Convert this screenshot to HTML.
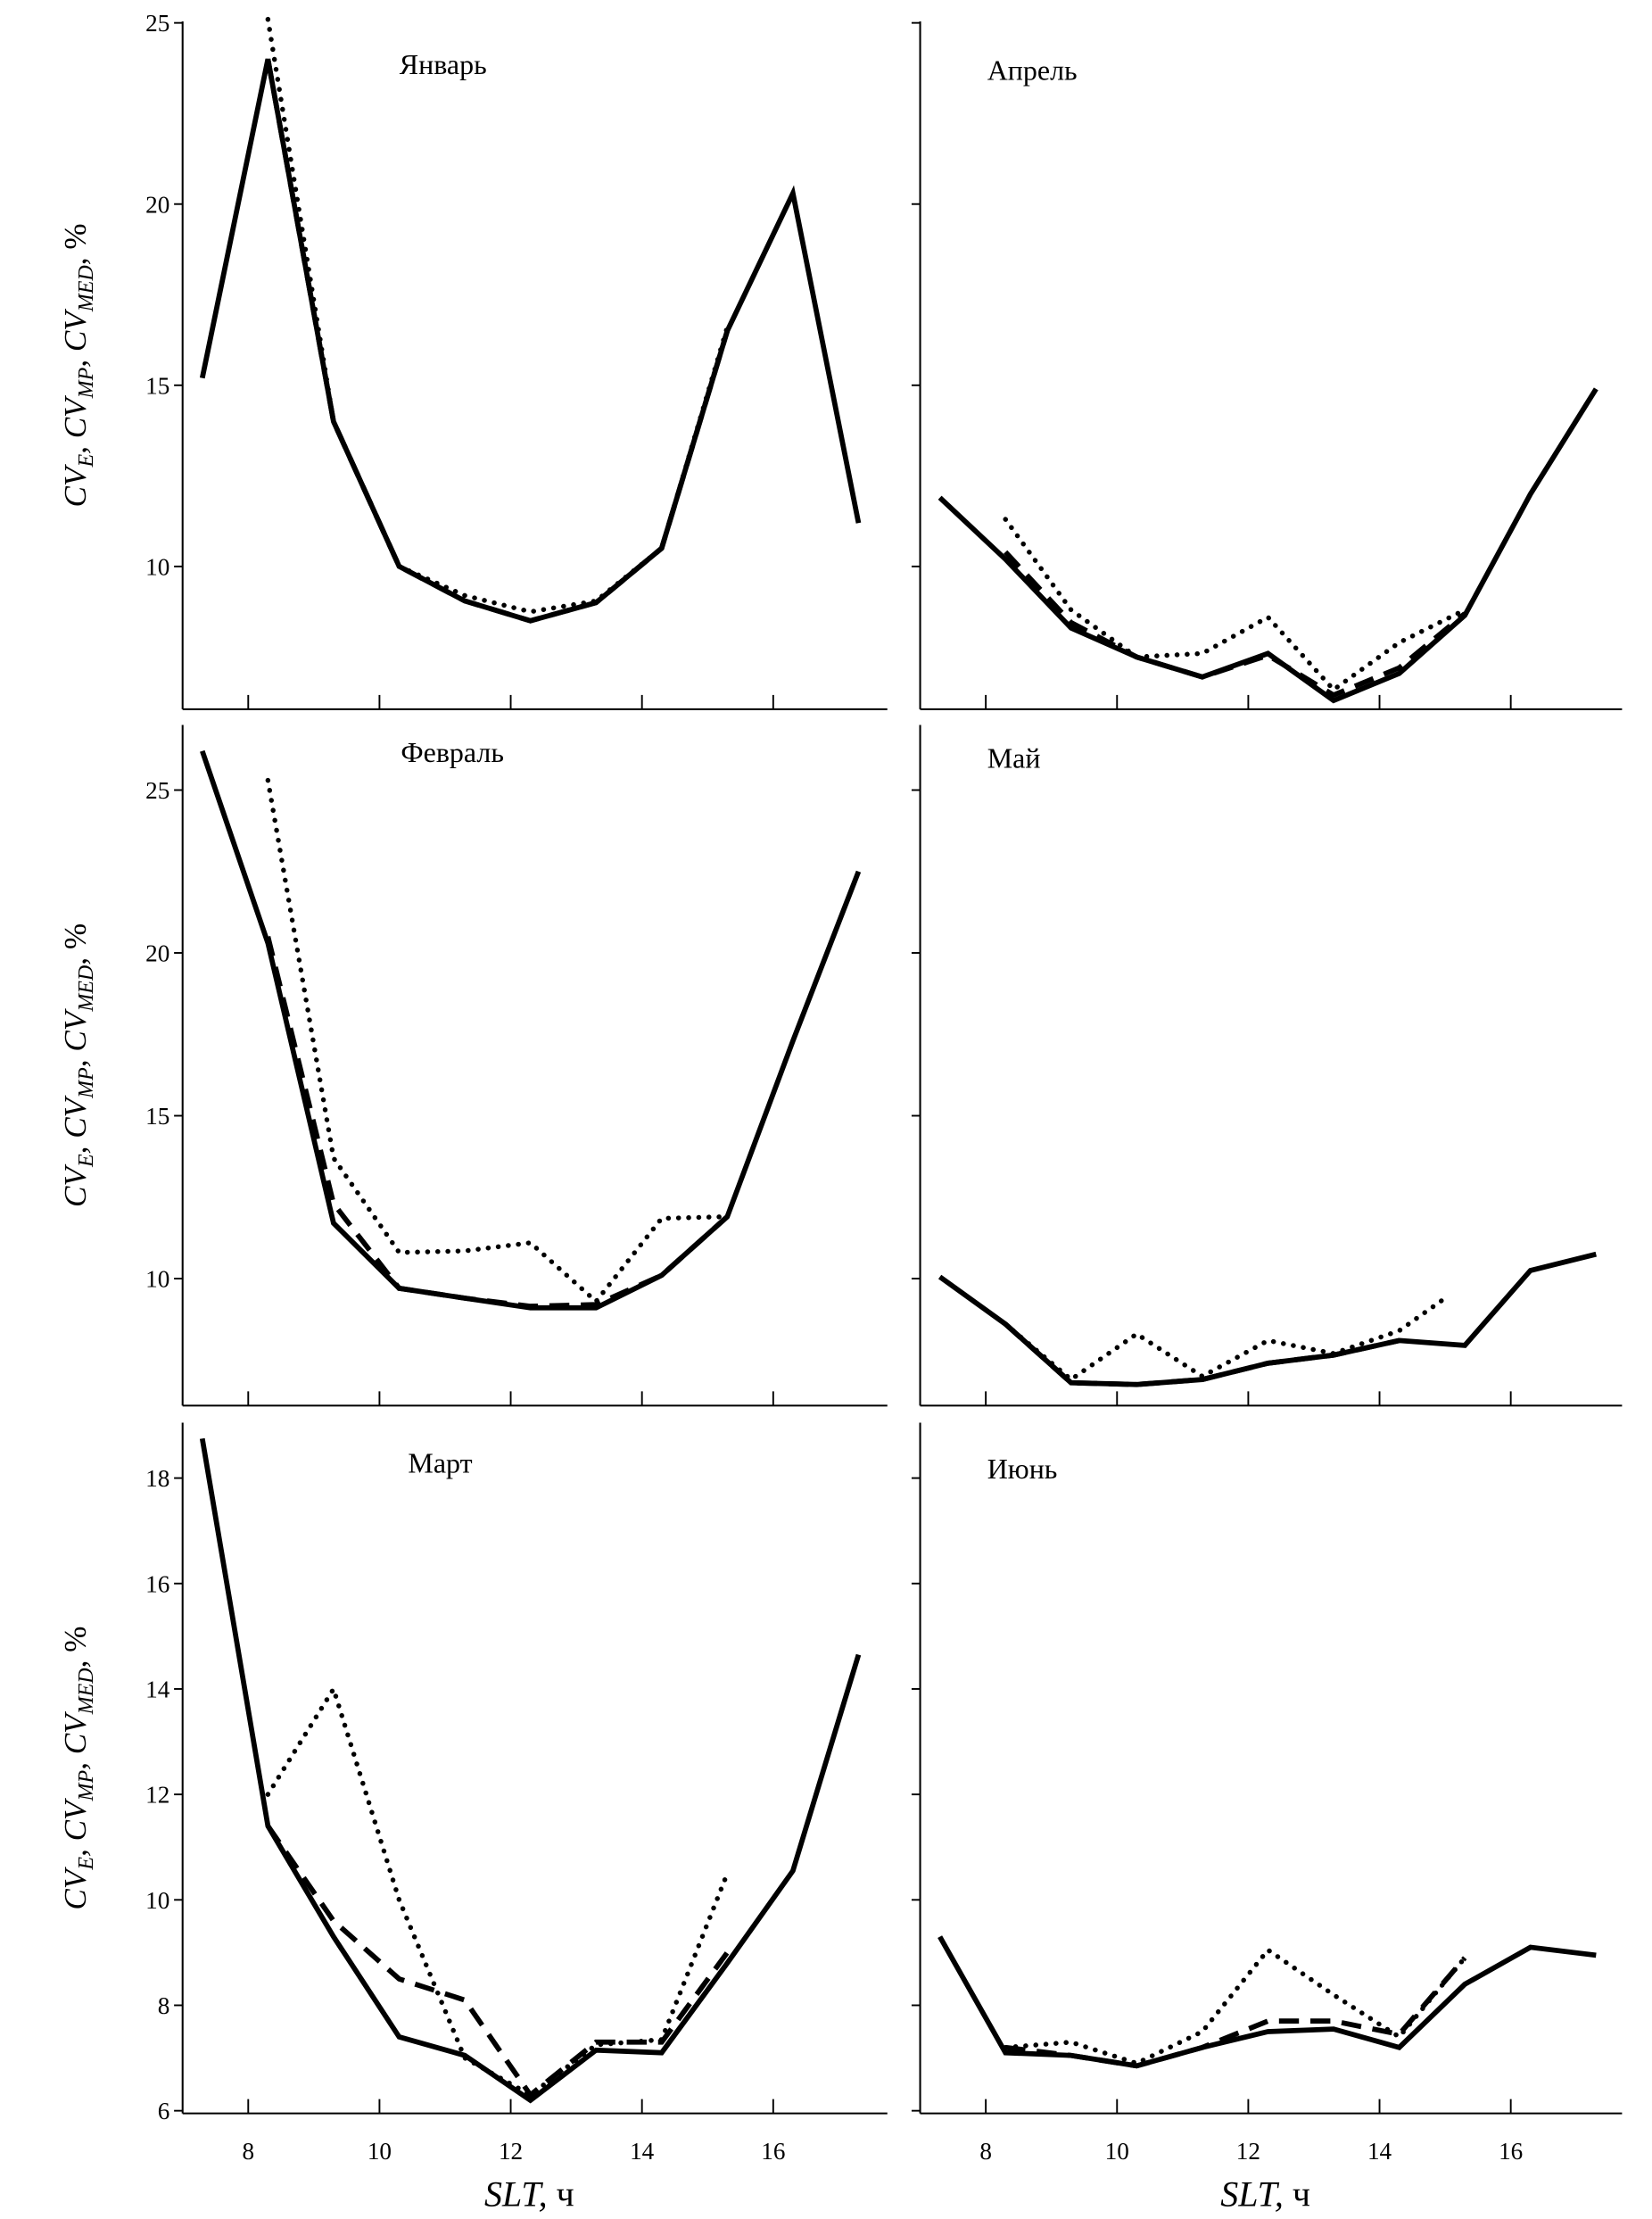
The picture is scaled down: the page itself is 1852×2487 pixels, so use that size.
<!DOCTYPE html>
<html><head><meta charset="utf-8"><style>
html,body{margin:0;padding:0;background:#fff}
svg{display:block}
text{font-family:"Liberation Serif",serif;fill:#000}
</style></head><body>
<svg id="chart" width="1852" height="2487" viewBox="0 0 1158 1555" xmlns="http://www.w3.org/2000/svg"></svg>
<script>
const hours = [7.3,8.3,9.3,10.3,11.3,12.3,13.3,14.3,15.3,16.3,17.3];
const xTickLabels = [8,10,12,14,16];
const janSolid = [15.2,24,14,10,9.05,8.5,9.0,10.5,16.5,20.3,11.2];
const janDash  = [null,24,14,10,9.05,8.5,9.0,10.5,16.5,null,null];
const janDot   = [null,25.1,14,10,9.2,8.75,9.05,10.5,16.6,null,null];
const aprSolid = [11.9,10.2,8.3,7.5,6.95,7.6,6.3,7.05,8.65,12,14.9];
const aprDash  = [null,10.4,8.45,7.5,6.95,7.55,6.45,7.2,8.7,null,null];
const aprDot   = [null,11.3,8.8,7.5,7.6,8.6,6.6,7.9,8.8,null,null];
const febSolid = [26.2,20.3,11.7,9.7,9.4,9.1,9.1,10.1,11.9,17.3,22.5];
const febDash  = [null,20.5,12.3,9.7,9.4,9.15,9.2,10.1,11.9,null,null];
const febDot   = [null,25.3,13.7,10.8,10.85,11.1,9.3,11.85,11.9,null,null];
const maySolid = [10.05,8.6,6.8,6.75,6.9,7.4,7.65,8.1,7.95,10.25,10.75];
const mayDash  = [null,8.6,6.8,6.75,6.9,7.4,7.65,8.1,null,null,null];
const mayDot   = [null,8.6,6.9,8.3,7.0,8.1,7.7,8.4,9.4,null,null];
const marSolid = [18.75,11.4,9.3,7.4,7.05,6.2,7.15,7.1,8.8,10.55,14.65];
const marDash  = [null,11.4,9.6,8.5,8.1,6.3,7.3,7.3,9.0,null,null];
const marDot   = [null,12.0,14.0,10.0,7.0,6.3,7.25,7.35,10.5,null,null];
const junSolid = [9.3,7.1,7.05,6.85,7.2,7.5,7.55,7.2,8.4,9.1,8.95];
const junDash  = [null,7.2,7.05,6.85,7.2,7.7,7.7,7.45,8.9,null,null];
const junDot   = [null,7.2,7.3,6.9,7.5,9.05,8.2,7.4,8.9,null,null];
const ticksTop = [10,15,20,25];
const ticksMid = [10,15,20,25];
const ticksBot = [6,8,10,12,14,16,18];

const NS="http://www.w3.org/2000/svg";
const svg=document.getElementById('chart');
function mk(tag,attrs,parent){const e=document.createElementNS(NS,tag);for(const k in attrs)e.setAttribute(k,attrs[k]);(parent||svg).appendChild(e);return e;}

const rows=[
 {top:15,bottom:497,vmin:6.06,vmax:25.04,ticks:ticksTop},
 {top:508,bottom:985,vmin:6.1,vmax:27.0,ticks:ticksMid},
 {top:997,bottom:1481,vmin:5.95,vmax:19.05,ticks:ticksBot}
];
const cols=[{x0:128,x1:622},{x0:645,x1:1137}];
const panels=[
 {name:'january',title:'Январь',r:0,c:0,s:[janSolid,janDash,janDot],tx:280,ty:52},
 {name:'april',title:'Апрель',r:0,c:1,s:[aprSolid,aprDash,aprDot],tx:692,ty:56},
 {name:'february',title:'Февраль',r:1,c:0,s:[febSolid,febDash,febDot],tx:281,ty:534},
 {name:'may',title:'Май',r:1,c:1,s:[maySolid,mayDash,mayDot],tx:692,ty:538},
 {name:'march',title:'Март',r:2,c:0,s:[marSolid,marDash,marDot],tx:286,ty:1032},
 {name:'june',title:'Июнь',r:2,c:1,s:[junSolid,junDash,junDot],tx:692,ty:1036}
];
panels.forEach(p=>{
 const R=rows[p.r],C=cols[p.c];
 const g=mk('g',{});
 
 
 const xs=h=>C.x0+(h-7)*46;
 const ys=v=>R.bottom-(v-R.vmin)/(R.vmax-R.vmin)*(R.bottom-R.top);
 const ya=mk('line',{x1:C.x0,y1:R.top,x2:C.x0,y2:R.bottom,stroke:'#000','stroke-width':1.3},g);
 
 
 const xa=mk('line',{x1:C.x0,y1:R.bottom,x2:C.x1,y2:R.bottom,stroke:'#000','stroke-width':1.3},g);
 
 
 R.ticks.forEach(t=>{
  const y=ys(t);
  const tk=mk('line',{x1:C.x0-6,y1:y,x2:C.x0,y2:y,stroke:'#000','stroke-width':1.2},g);
  
  
  if(p.c===0){const tl=mk('text',{x:C.x0-9,y:y+6,'text-anchor':'end','font-size':17},g);tl.textContent=t;
   
   }
 });
 xTickLabels.forEach(t=>{
  const x=xs(t);
  const tk=mk('line',{x1:x,y1:R.bottom-10,x2:x,y2:R.bottom,stroke:'#000','stroke-width':1.2},g);
  
  
  if(p.r===2){const tl=mk('text',{x:x,y:R.bottom+32,'text-anchor':'middle','font-size':17},g);tl.textContent=t;
   
   }
 });
 const styles=[
  {w:3.6,d:'',cap:'butt',n:'cv-e-line'},
  {w:3.6,d:'14 8',cap:'butt',n:'cv-mp-line'},
  {w:3.4,d:'0.1 7',cap:'round',n:'cv-med-line'}
 ];
 p.s.forEach((vals,i)=>{
  let d='';vals.forEach((v,j)=>{if(v===null)return;let h=hours[j];if(p.name==='may'&&i===2&&j===8)h=15.0;d+=(d?'L':'M')+xs(h).toFixed(1)+','+ys(v).toFixed(1);});
  const st=styles[i];
  const path=mk('path',{d:d,fill:'none',stroke:'#000','stroke-width':st.w,'stroke-dasharray':st.d,'stroke-linecap':st.cap,'stroke-linejoin':'miter'},g);
  
  
 });
 const tt=mk('text',{x:p.tx,y:p.ty,'font-size':20},g);tt.textContent=p.title;
 
 
 if(p.c===0){
  const cy=(R.top+R.bottom)/2;
  const yl=mk('text',{x:0,y:0,transform:`translate(60,${cy}) rotate(-90)`,'text-anchor':'middle','font-size':22,'font-style':'italic'},g);
  yl.innerHTML='CV<tspan font-size="15" dy="5">E</tspan><tspan dy="-5">, CV</tspan><tspan font-size="15" dy="5">MP</tspan><tspan dy="-5">, CV</tspan><tspan font-size="15" dy="5">MED</tspan><tspan dy="-5" font-style="normal">, %</tspan>';
  
  
 }
 if(p.r===2){
  const xl=mk('text',{x:(C.x0+C.x1)/2-4,y:1546,'text-anchor':'middle','font-size':25},g);
  xl.innerHTML='<tspan font-style="italic">SLT,</tspan> ч';
  
  
 }
});
</script>
</body></html>
